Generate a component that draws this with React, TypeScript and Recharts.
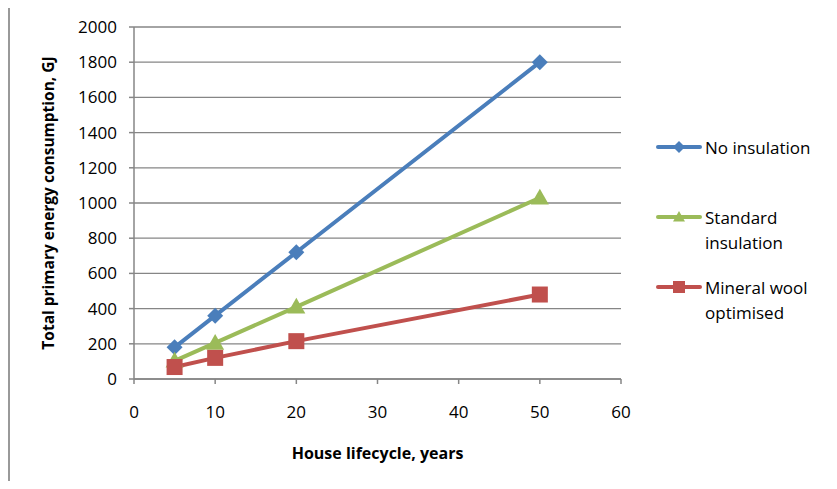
import React from "react"
import { LineChart, Line, XAxis, YAxis, CartesianGrid, Label } from "recharts"

// lifecycle lengths, years
const years = [5, 10, 20, 50]
// total primary energy use, GJ
const noInsulation = [180, 360, 720, 1800]
const standardInsulation = [103, 205, 410, 1030]
const mineralWool = [68, 120, 215, 480]

const xTicks = [0, 10, 20, 30, 40, 50, 60]
const yTicks = [0, 200, 400, 600, 800, 1000, 1200, 1400, 1600, 1800, 2000]

const data = years.map((y, i) => ({
  year: y,
  none: noInsulation[i],
  standard: standardInsulation[i],
  wool: mineralWool[i],
}))

const BLUE = "#4a7ebb"
const GREEN = "#9bbb59"
const RED = "#c0504d"
const AXIS = "#868686"
const FONT = "'Open Sans', Lato, sans-serif"

const Diamond = ({ cx, cy, size = 7, fill }: any) =>
  cx == null ? null : (
    <path d={`M${cx},${cy - size} L${cx + size},${cy} L${cx},${cy + size} L${cx - size},${cy} Z`} fill={fill} />
  )

const Triangle = ({ cx, cy, size = 8, fill }: any) =>
  cx == null ? null : (
    <path d={`M${cx},${cy - size} L${cx + size},${cy + size * 0.75} L${cx - size},${cy + size * 0.75} Z`} fill={fill} />
  )

const Square = ({ cx, cy, size = 7, fill }: any) =>
  cx == null ? null : <rect x={cx - size} y={cy - size} width={size * 2} height={size * 2} fill={fill} />

const legendItems = [
  { lines: ["No insulation"], color: BLUE, Marker: Diamond },
  { lines: ["Standard", "insulation"], color: GREEN, Marker: Triangle },
  { lines: ["Mineral wool", "optimised"], color: RED, Marker: Square },
]

// legend to the right of the plot, one block per series
const SideLegend = () => (
  <div style={{ position: "absolute", left: 655, top: 135, fontFamily: FONT, fontSize: 17, color: "#000" }}>
    {legendItems.map((item, i) => (
      <div key={i} style={{ display: "flex", alignItems: "flex-start", height: 70 }}>
        <svg width={50} height={25} style={{ flex: "none" }}>
          <line x1={3} y1={12} x2={45} y2={12} stroke={item.color} strokeWidth={4} strokeLinecap="round" />
          <item.Marker cx={24} cy={12} size={6} fill={item.color} />
        </svg>
        <div style={{ lineHeight: "25px" }}>
          {item.lines.map((l, j) => (
            <div key={j}>{l}</div>
          ))}
        </div>
      </div>
    ))}
  </div>
)

export default function App() {
  return (
    <div style={{ position: "relative", width: 837, height: 489, margin: -8, background: "#fff", overflow: "hidden" }}>
      <div
        style={{
          position: "absolute",
          left: 8,
          top: 4,
          width: 900,
          height: 600,
          borderTop: "2px solid #999",
          borderLeft: "2px solid #999",
        }}
      />
      <LineChart
        width={837}
        height={489}
        data={data}
        margin={{ top: 27, right: 216, bottom: 80, left: 74 }}
        style={{ position: "absolute", left: 0, top: 0 }}
      >
        <CartesianGrid horizontal vertical={false} stroke={AXIS} strokeWidth={1.3} />
        <XAxis
          dataKey="year"
          type="number"
          domain={[0, 60]}
          ticks={xTicks}
          height={30}
          stroke={AXIS}
          strokeWidth={1.5}
          tickSize={5}
          tickMargin={22}
          tick={{ fill: "#000", fontSize: 17, fontFamily: FONT }}
        >
          <Label
            content={({ viewBox }: any) => (
              <text
                x={viewBox.x + viewBox.width / 2}
                y={459}
                textAnchor="middle"
                fontFamily={FONT}
                fontWeight="bold"
                fontSize={16}
                fill="#000"
              >
                House lifecycle, years
              </text>
            )}
          />
        </XAxis>
        <YAxis
          type="number"
          domain={[0, 2000]}
          ticks={yTicks}
          width={60}
          stroke={AXIS}
          strokeWidth={1.5}
          tickSize={5}
          tickMargin={12}
          tick={{ fill: "#000", fontSize: 17, fontFamily: FONT }}
        >
          <Label
            content={() => (
              <text
                x={54}
                y={203}
                transform="rotate(-90 54 203)"
                textAnchor="middle"
                fontFamily={FONT}
                fontWeight="bold"
                fontSize={15.5}
                fill="#000"
              >
                Total primary energy consumption, GJ
              </text>
            )}
          />
        </YAxis>
        <Line
          dataKey="none"
          name="No insulation"
          stroke={BLUE}
          strokeWidth={4}
          dot={<Diamond size={8} fill={BLUE} />}
          activeDot={false}
          isAnimationActive={false}
        />
        <Line
          dataKey="standard"
          name="Standard insulation"
          stroke={GREEN}
          strokeWidth={4}
          dot={<Triangle size={9} fill={GREEN} />}
          activeDot={false}
          isAnimationActive={false}
        />
        <Line
          dataKey="wool"
          name="Mineral wool optimised"
          stroke={RED}
          strokeWidth={4}
          dot={<Square size={8} fill={RED} />}
          activeDot={false}
          isAnimationActive={false}
        />
      </LineChart>
      <SideLegend />
    </div>
  )
}
